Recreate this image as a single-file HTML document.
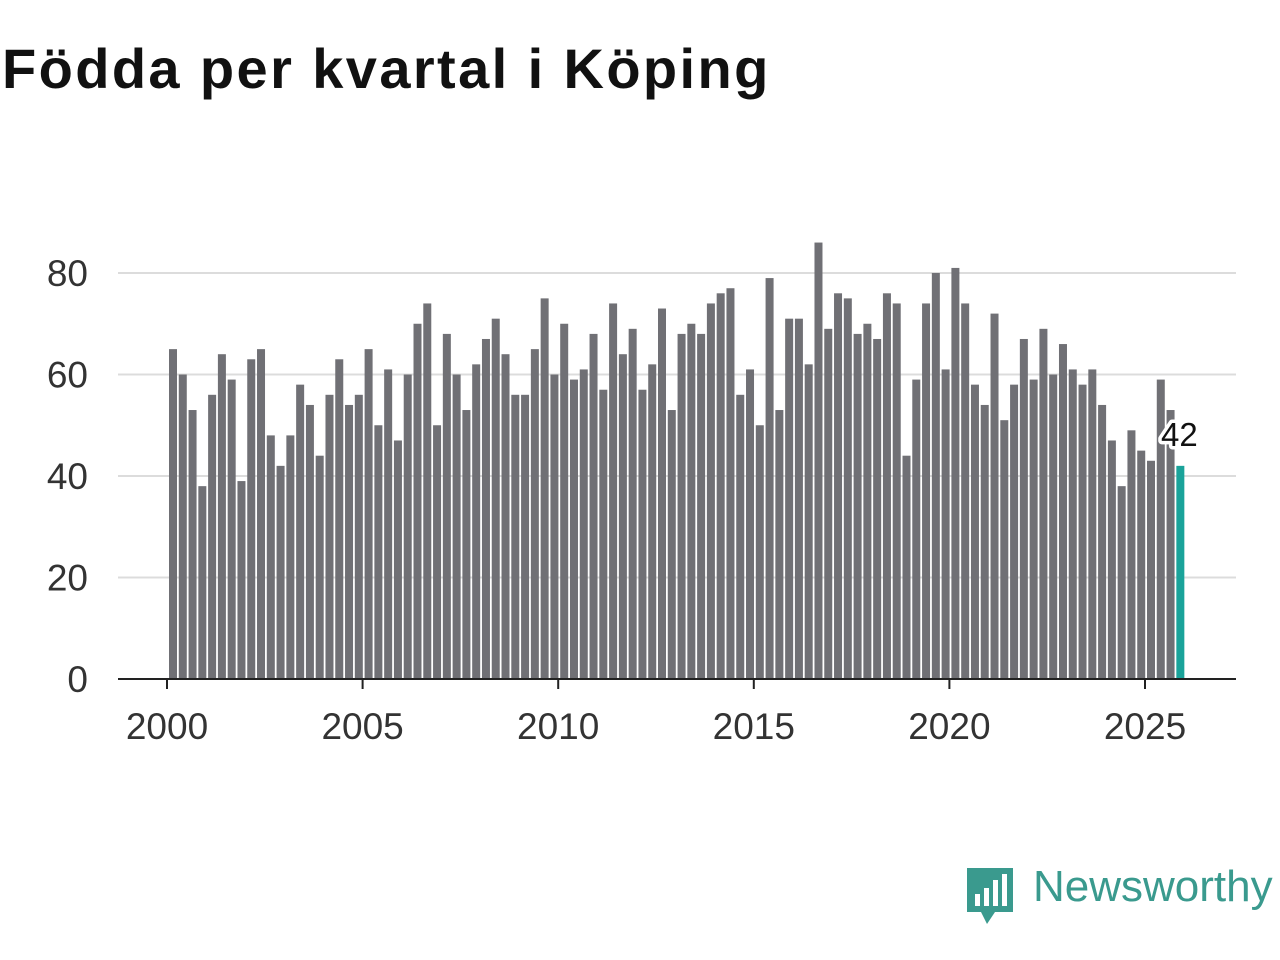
<!DOCTYPE html>
<html><head><meta charset="utf-8"><style>
body{margin:0;width:1280px;height:960px;background:#fff;overflow:hidden;font-family:"Liberation Sans","DejaVu Sans",sans-serif}
h1{position:absolute;left:2px;top:36px;margin:0;font-size:56px;font-weight:bold;color:#111;letter-spacing:2.4px;white-space:nowrap}
</style></head><body>
<h1>Födda per kvartal i Köping</h1>
<svg id="chart" width="1280" height="960" style="position:absolute;left:0;top:0"></svg>
<script>
const years=["2000","2005","2010","2015","2020","2025"];
const yTicks=[0,20,40,60,80];
const births=[65,60,53,38,56,64,59,39,63,65,48,42,48,58,54,44,56,63,54,56,65,50,61,47,60,70,74,50,68,60,53,62,67,71,64,56,56,65,75,60,70,59,61,68,57,74,64,69,57,62,73,53,68,70,68,74,76,77,56,61,50,79,53,71,71,62,86,69,76,75,68,70,67,76,74,44,59,74,80,61,81,74,58,54,72,51,58,67,59,69,60,66,61,58,61,54,47,38,49,45,43,59,53,42];
const startYear=2000;
const NS="http://www.w3.org/2000/svg";
const svg=document.getElementById('chart');
const y=v=>679-v*(406/80);
const x=t=>167+(t-2000)*39.12;
function mk(tag,attrs){const e=document.createElementNS(NS,tag);for(const k in attrs)e.setAttribute(k,attrs[k]);svg.appendChild(e);return e;}
yTicks.forEach(v=>{
  if(v>0){const g=mk('line',{x1:118,x2:1236,y1:y(v),y2:y(v),stroke:'#dcdcdc','stroke-width':2});
  
  }
  const t=mk('text',{x:88,y:y(v)+13,'text-anchor':'end','font-size':37,fill:'#333'});
  t.textContent=v;
  
  
});
births.forEach((v,i)=>{
  const t=startYear+i/4;
  const last=i===births.length-1;
  const r=mk('rect',{x:x(t)+2,y:y(v),width:8,height:679-y(v),fill:last?'#1aa39a':'#707075'});
  
  
});
const ax=mk('line',{x1:118,x2:1236,y1:679,y2:679,stroke:'#222','stroke-width':2});


years.forEach(s=>{
  const tk=mk('line',{x1:x(+s),x2:x(+s),y1:679,y2:689,stroke:'#222','stroke-width':2});
  
  
  const t=mk('text',{x:x(+s),y:739,'text-anchor':'middle','font-size':37,fill:'#333'});
  t.textContent=s;
  
  
});
const lv=births[births.length-1];
const lx=x(startYear+(births.length-1)/4)+6;
const lab=mk('text',{x:lx-1,y:y(lv)-20,'text-anchor':'middle','font-size':33,fill:'#111',stroke:'#fff','stroke-width':7,'paint-order':'stroke','stroke-linejoin':'round'});
lab.textContent=lv;


</script>
<div style="position:absolute;left:965px;top:866px;height:60px;width:320px">
<svg width="50" height="60" style="position:absolute;left:0;top:0"><path d="M2 2h46v44H30l-8 12-6-12H2z" fill="#3a9a8e"/><rect x="10" y="28" width="5" height="12" fill="#fff"/><rect x="19" y="22" width="5" height="18" fill="#fff"/><rect x="28" y="14" width="5" height="26" fill="#fff"/><rect x="37" y="8" width="5" height="32" fill="#fff"/></svg>
<span style="position:absolute;left:68px;top:-4px;font-size:44px;color:#3a9a8e;font-weight:500">Newsworthy</span>
</div>
</body></html>
